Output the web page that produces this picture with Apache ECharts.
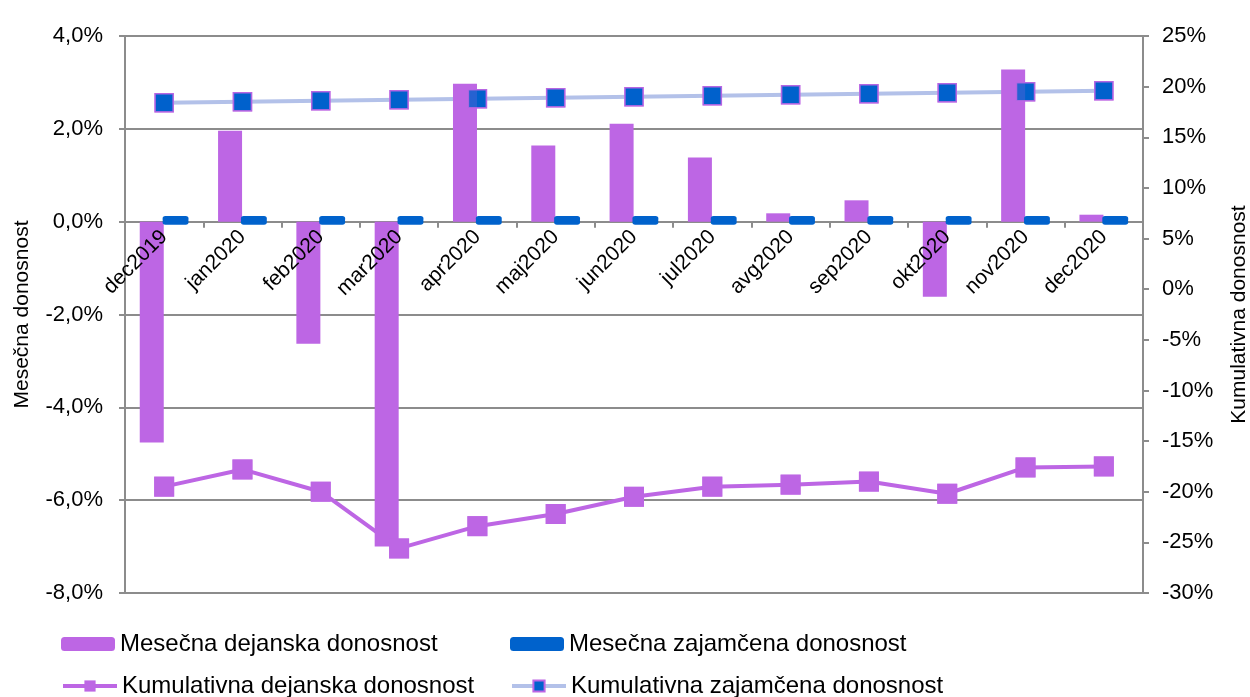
<!DOCTYPE html>
<html>
<head>
<meta charset="utf-8">
<script src="https://cdn.jsdelivr.net/npm/echarts@6/dist/echarts.min.js"></script>
<style>
  html, body { margin: 0; padding: 0; background: #fff; }
  #main { width: 1250px; height: 697px; }
</style>
</head>
<body>
<div id="main"></div>
<script>
// podatki (v %)
var meseci = ['dec2019', 'jan2020', 'feb2020', 'mar2020', 'apr2020', 'maj2020', 'jun2020',
  'jul2020', 'avg2020', 'sep2020', 'okt2020', 'nov2020', 'dec2020'];
var mesecnaDejanska = [-4.76, 1.96, -2.63, -7.0, 2.97, 1.64, 2.11, 1.38, 0.18, 0.46, -1.62, 3.28, 0.15];
var mesecnaZajamcena = [0.12, 0.12, 0.12, 0.12, 0.12, 0.12, 0.12, 0.12, 0.12, 0.12, 0.12, 0.12, 0.12];
var kumDejanska = [-19.5, -17.8, -20.0, -25.6, -23.4, -22.2, -20.5, -19.5, -19.3, -19.0, -20.2, -17.6, -17.5];
var kumZajamcena = [18.4, 18.5, 18.6, 18.7, 18.8, 18.9, 19.0, 19.1, 19.2, 19.3, 19.4, 19.5, 19.6];

var imena = ['Mesečna dejanska donosnost', 'Mesečna zajamčena donosnost',
  'Kumulativna dejanska donosnost', 'Kumulativna zajamčena donosnost'];

var vijolicna = '#bd66e4';
var modra = '#0062cc';
var svetloModra = '#b3c1e9';
var siva = '#8c8c8c';
var pisava = '"Liberation Sans", Arial, sans-serif';

// levo os: -8 .. 4, mreža 36 .. 593 px
var levaMin = -8, levaMax = 4;
var gridTop = 36, gridBottom = 104, visina = 697 - gridTop - gridBottom;
// premik osi x na vrednost 0
var odmikX = -visina * (0 - levaMin) / (levaMax - levaMin);

var myChart = echarts.init(document.getElementById('main'));

function legenda(ime, left, top) {
  return {
    data: [ime],
    left: left,
    top: top,
    itemWidth: 54,
    itemHeight: 14,
    padding: 0,
    lineStyle: { width: 4 },
    textStyle: { fontFamily: pisava, fontSize: 24, color: '#000' }
  };
}

var option = {
  backgroundColor: '#fff',
  animation: false,
  textStyle: { fontFamily: pisava },
  legend: [
    legenda(imena[0], 61, 632),
    legenda(imena[1], 510, 632),
    legenda(imena[2], 61, 674),
    legenda(imena[3], 510, 674)
  ],
  grid: { left: 125, right: 107, top: gridTop, bottom: gridBottom, outerBoundsMode: 'none', containLabel: false },
  xAxis: [
    {
      // os in oznake kljukic (pod stolpci)
      type: 'category',
      data: meseci,
      position: 'bottom',
      offset: odmikX,
      z: 0,
      axisLine: { onZero: false, lineStyle: { color: siva, width: 2 } },
      axisTick: { show: true, length: 6, lineStyle: { color: siva, width: 2 } },
      axisLabel: { show: false }
    },
    {
      // napisi mesecev (nad stolpci)
      type: 'category',
      data: meseci,
      position: 'bottom',
      offset: odmikX,
      z: 10,
      axisLine: { show: false, onZero: false },
      axisTick: { show: false },
      axisLabel: {
        interval: 0,
        rotate: 45,
        margin: 12,
        fontSize: 21,
        color: '#000',
        fontFamily: pisava
      }
    }
  ],
  yAxis: [
    {
      type: 'value',
      min: levaMin,
      max: levaMax,
      interval: 2,
      name: 'Mesečna donosnost',
      nameLocation: 'middle',
      nameRotate: 90,
      nameGap: 92,
      nameTextStyle: { fontSize: 21, color: '#000', fontFamily: pisava },
      axisLine: { show: true, onZero: false, lineStyle: { color: siva, width: 2 } },
      axisTick: { show: true, length: 6, lineStyle: { color: siva, width: 2 } },
      splitLine: { show: true, lineStyle: { color: siva, width: 2 } },
      axisLabel: {
        fontSize: 22,
        color: '#000',
        margin: 22,
        fontFamily: pisava,
        formatter: function (v) { return v.toFixed(1).replace('.', ',') + '%'; }
      }
    },
    {
      type: 'value',
      min: -30,
      max: 25,
      interval: 5,
      position: 'right',
      name: 'Kumulativna donosnost',
      nameLocation: 'middle',
      nameRotate: 90,
      nameGap: 86,
      nameTextStyle: { fontSize: 21, color: '#000', fontFamily: pisava },
      axisLine: { show: true, onZero: false, lineStyle: { color: siva, width: 2 } },
      axisTick: { show: true, length: 6, lineStyle: { color: siva, width: 2 } },
      splitLine: { show: false },
      axisLabel: {
        fontSize: 22,
        color: '#000',
        margin: 19,
        fontFamily: pisava,
        formatter: function (v) { return v + '%'; }
      }
    }
  ],
  series: [
    {
      name: imena[0],
      type: 'bar',
      yAxisIndex: 0,
      data: mesecnaDejanska,
      barWidth: 24,
      barGap: '-5%',
      z: 2,
      itemStyle: { color: vijolicna }
    },
    {
      name: imena[1],
      type: 'bar',
      yAxisIndex: 0,
      data: mesecnaZajamcena,
      barWidth: 26,
      z: 3,
      itemStyle: {
        color: modra,
        borderRadius: 3,
        shadowColor: modra,
        shadowBlur: 0,
        shadowOffsetY: 3
      }
    },
    {
      name: imena[2],
      type: 'line',
      yAxisIndex: 1,
      data: kumDejanska,
      symbol: 'rect',
      symbolSize: 20,
      z: 1,
      lineStyle: { color: vijolicna, width: 4 },
      itemStyle: { color: vijolicna }
    },
    {
      name: imena[3],
      type: 'line',
      yAxisIndex: 1,
      data: kumZajamcena,
      symbol: 'rect',
      symbolSize: 18,
      z: 1,
      lineStyle: { color: svetloModra, width: 4 },
      itemStyle: { color: modra, borderColor: vijolicna, borderWidth: 1.5 }
    },
    // oznake nad stolpci
    {
      type: 'scatter',
      yAxisIndex: 1,
      data: kumDejanska,
      symbol: 'rect',
      symbolSize: 20,
      z: 5,
      itemStyle: { color: vijolicna }
    },
    {
      type: 'scatter',
      yAxisIndex: 1,
      data: kumZajamcena,
      symbol: 'rect',
      symbolSize: 18,
      z: 5,
      itemStyle: { color: modra, borderColor: vijolicna, borderWidth: 1.5 }
    }
  ]
};

myChart.setOption(option);
</script>
</body>
</html>
